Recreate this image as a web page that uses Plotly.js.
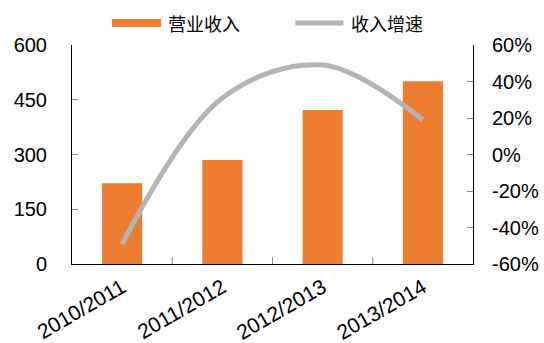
<!DOCTYPE html>
<html><head><meta charset="utf-8">
<script src="https://cdn.plot.ly/plotly-3.0.1.min.js"></script>
<style>html,body{margin:0;padding:0;background:#fff}#c{width:544px;height:343px}</style>
</head><body><div id="c"></div>
<script>
const categories = ["2010/2011","2011/2012","2012/2013","2013/2014"];
const revenue = [221, 285, 422, 501];
const growth = [-0.49, 0.31, 0.49, 0.19];
const leftTicks = [0,150,300,450,600];
const rightTicks = [-0.6,-0.4,-0.2,0,0.2,0.4,0.6];
const rightTickText = ["-60%","-40%","-20%","0%","20%","40%","60%"];
const seriesNames = ["营业收入","收入增速"];
const barColor = "#ED7D31", lineColor = "#B4B4B4";

const font = {family: "Liberation Sans, Arial, sans-serif", size: 20, color: "#000"};
const xfont = {family: "Liberation Sans, Arial, sans-serif", size: 21, color: "#000"};
const cjk = {family: "Noto Sans CJK SC, sans-serif", size: 18, color: "#000"};
const data = [
  {type:"bar", name:seriesNames[0], x:categories, y:revenue, marker:{color:barColor}, width:0.4},
  {type:"scatter", mode:"lines", name:seriesNames[1], x:categories, y:growth, yaxis:"y2",
   line:{color:lineColor, width:5, shape:"spline", smoothing:1}}
];
const shapes = [1,2,3].map(i => ({type:"line", xref:"x", yref:"paper", x0:i-0.5, x1:i-0.5, y0:0, y1:0.03,
    line:{color:"#888", width:1}}));
shapes.push({type:"rect", xref:"paper", yref:"paper", x0:0.0998, x1:0.222, y0:1.082, y1:1.119,
  fillcolor:barColor, line:{width:0}});
shapes.push({type:"line", xref:"paper", yref:"paper", x0:0.557, x1:0.677, y0:1.100, y1:1.100,
  line:{color:lineColor, width:5}});
const layout = {
  width:544, height:343,
  margin:{l:72, r:71, t:45, b:79},
  paper_bgcolor:"#fff", plot_bgcolor:"#fff",
  font: font,
  showlegend:false,
  xaxis:{type:"category", showline:true, linecolor:"#000", linewidth:1,
    ticks:"", tickangle:-30, tickfont:xfont, showgrid:false, zeroline:false, ticklabelstandoff:2},
  yaxis:{range:[0,600], tickvals:leftTicks, showline:true, linecolor:"#000", linewidth:1,
    ticks:"inside", ticklen:6, tickcolor:"#888", showgrid:false, zeroline:false, tickfont:font, ticklabelstandoff:20},
  yaxis2:{overlaying:"y", side:"right", range:[-0.6,0.6], tickvals:rightTicks, ticktext:rightTickText,
    showline:true, linecolor:"#000", linewidth:1, ticks:"inside", ticklen:6, tickcolor:"#888",
    showgrid:false, zeroline:false, tickfont:font, ticklabelstandoff:14},
  shapes: shapes,
  annotations: [
    {xref:"paper", yref:"paper", x:0.235, y:1.100, xanchor:"left", yanchor:"middle", text:seriesNames[0], showarrow:false, font:cjk},
    {xref:"paper", yref:"paper", x:0.690, y:1.100, xanchor:"left", yanchor:"middle", text:seriesNames[1], showarrow:false, font:cjk}
  ]
};
Plotly.newPlot("c", data, layout, {displayModeBar:false, staticPlot:true});
</script></body></html>
